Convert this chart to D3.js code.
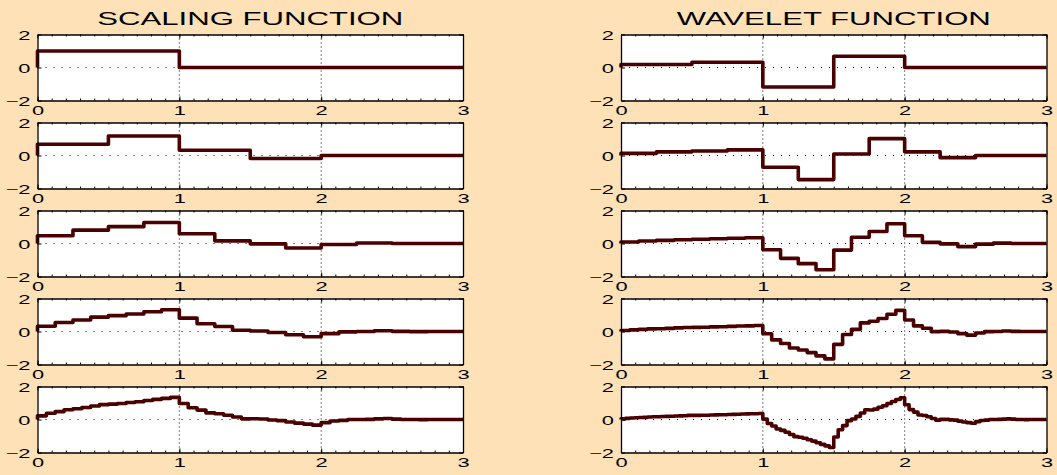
<!DOCTYPE html>
<html>
<head>
<meta charset="utf-8">
<script src="https://cdn.jsdelivr.net/npm/d3@7"></script>
<style>
  html, body { margin: 0; padding: 0; background: #FEE1B7; }
  svg { display: block; }
</style>
</head>
<body>
<svg id="chart" width="1057" height="475"></svg>
<script>
// Cascade iterations of the Daubechies-4 scaling function and wavelet.
// Each array holds the piecewise-constant values of one iteration, starting at t = 0.
const titles = ["SCALING FUNCTION", "WAVELET FUNCTION"];
const xTicks = [0, 1, 2, 3];
const yTicks = [-2, 0, 2];

const scaling1 = [1];
const scaling2 = [0.68, 1.18, 0.32, -0.18];
const scaling3 = [0.47, 0.81, 1.02, 1.27, 0.59, 0.16, -0.02, -0.27, -0.06, 0.03];
const scaling4 = [0.32, 0.55, 0.70, 0.87, 0.96, 1.06, 1.20, 1.32, 0.81, 0.47, 0.30, 0.08,
                  0.03, -0.06, -0.20, -0.32, -0.13, -0.02, 0.00, 0.05, 0.01, -0.01];
const scaling5 = [0.22, 0.38, 0.48, 0.59, 0.65, 0.73, 0.82, 0.90, 0.93, 0.97, 1.03, 1.08,
                  1.15, 1.22, 1.28, 1.34, 0.97, 0.71, 0.57, 0.40, 0.35, 0.26, 0.15, 0.04,
                  0.05, 0.03, -0.03, -0.07, -0.15, -0.22, -0.28, -0.34, -0.19, -0.09, -0.05, 0.00,
                  0.00, 0.01, 0.04, 0.06, 0.02, 0.00, 0.00, -0.01, 0.00, 0.00];

const wavelet1 = [0.18, 0.32, -1.18, 0.68];
const wavelet2 = [0.13, 0.22, 0.27, 0.34, -0.71, -1.46, 0.09, 1.02, 0.22, -0.13];
const wavelet3 = [0.09, 0.15, 0.19, 0.23, 0.26, 0.29, 0.32, 0.35, -0.38, -0.90, -1.22, -1.59,
                  -0.40, 0.38, 0.73, 1.20, 0.47, 0.07, -0.02, -0.19, -0.04, 0.02];
const wavelet4 = [0.06, 0.10, 0.13, 0.16, 0.17, 0.19, 0.22, 0.24, 0.25, 0.26, 0.28, 0.29,
                  0.31, 0.33, 0.34, 0.36, -0.14, -0.51, -0.73, -1.00, -1.12, -1.28, -1.48, -1.66,
                  -0.78, -0.18, 0.13, 0.52, 0.62, 0.79, 1.05, 1.28, 0.70, 0.34, 0.20, -0.01,
                  0.01, -0.03, -0.13, -0.22, -0.09, -0.01, 0.00, 0.03, 0.01, 0.00];
const wavelet5 = [0.04, 0.07, 0.09, 0.11, 0.12, 0.13, 0.15, 0.17, 0.17, 0.18, 0.19, 0.20,
                  0.21, 0.22, 0.23, 0.25, 0.25, 0.25, 0.26, 0.26, 0.27, 0.28, 0.29, 0.29,
                  0.30, 0.31, 0.32, 0.33, 0.34, 0.35, 0.35, 0.36, 0.02, -0.24, -0.39, -0.58,
                  -0.66, -0.77, -0.91, -1.04, -1.08, -1.14, -1.23, -1.31, -1.41, -1.51, -1.60, -1.70,
                  -1.06, -0.62, -0.37, -0.07, 0.03, 0.19, 0.39, 0.59, 0.58, 0.63, 0.74, 0.83,
                  0.97, 1.09, 1.21, 1.32, 0.89, 0.60, 0.45, 0.27, 0.24, 0.17, 0.06, -0.04,
                  0.01, 0.01, -0.02, -0.04, -0.10, -0.15, -0.19, -0.23, -0.13, -0.06, -0.04, 0.00,
                  0.00, 0.01, 0.02, 0.04, 0.02, 0.00, 0.00, -0.01, 0.00, 0.00];

// Width of one constant piece for each iteration.
const scalingSteps = [1, 1 / 2, 1 / 4, 1 / 8, 1 / 16];
const waveletSteps = [1 / 2, 1 / 4, 1 / 8, 1 / 16, 1 / 32];

const columns = [
  { series: [scaling1, scaling2, scaling3, scaling4, scaling5], steps: scalingSteps },
  { series: [wavelet1, wavelet2, wavelet3, wavelet4, wavelet5], steps: waveletSteps }
];

// Layout
const colLeft = [37.5, 621];
const colRight = [463, 1046.5];
const rowTop = 34.5, rowHeight = 66, rowGap = 88;
const textStretch = 1.75;
const fontFamily = "'Liberation Sans', Arial, Helvetica, sans-serif";
const lineColor = "#4a0000";

const svg = d3.select("#chart");

function stretchText(sel) {
  sel.attr("transform", `scale(${textStretch},1)`)
     .attr("fill", "#000")
     .style("font-family", fontFamily)
     .style("font-size", "12.5px");
}

// Titles
titles.forEach((t, c) => {
  svg.append("text")
    .attr("transform", `translate(${(colLeft[c] + colRight[c]) / 2},25) scale(1.73,1)`)
    .attr("text-anchor", "middle")
    .style("font-family", fontFamily)
    .style("font-size", "18px")
    .attr("fill", "#000")
    .text(t);
});

for (let r = 0; r < 5; r++) {
  for (let c = 0; c < 2; c++) {
    const top = rowTop + r * rowGap, bottom = top + rowHeight;
    const x = d3.scaleLinear().domain([0, 3]).range([colLeft[c], colRight[c]]);
    const y = d3.scaleLinear().domain([-2, 2]).range([bottom, top]);
    const g = svg.append("g");

    // Plot area
    g.append("rect")
      .attr("x", x(0)).attr("y", y(2))
      .attr("width", x(3) - x(0)).attr("height", y(-2) - y(2))
      .attr("fill", "#fff");

    // Dotted grid
    g.selectAll(".gx").data([1, 2]).join("line")
      .attr("x1", d => x(d)).attr("x2", d => x(d))
      .attr("y1", y(2)).attr("y2", y(-2))
      .attr("stroke", "#000").attr("stroke-width", 1)
      .attr("stroke-dasharray", "1,3");
    g.selectAll(".gy").data([0]).join("line")
      .attr("x1", x(0)).attr("x2", x(3))
      .attr("y1", d => y(d)).attr("y2", d => y(d))
      .attr("stroke", "#000").attr("stroke-width", 1)
      .attr("stroke-dasharray", "1,7");

    // Stepped curve
    const vals = columns[c].series[r];
    const w = columns[c].steps[r];
    const n = Math.round(3 / w);
    const pts = [[0, 0]];
    for (let i = 0; i < n; i++) pts.push([i * w, i < vals.length ? vals[i] : 0]);
    pts.push([3, 0]);
    const line = d3.line().x(d => x(d[0])).y(d => y(d[1])).curve(d3.curveStepAfter);
    g.append("path")
      .attr("d", line(pts))
      .attr("fill", "none")
      .attr("stroke", lineColor)
      .attr("stroke-width", 3.6)
      .attr("stroke-linejoin", "round");

    // Minor ticks along the top and bottom edges
    const minor = d3.range(0, 3.0001, 0.1);
    g.append("g").attr("transform", `translate(0,${bottom})`)
      .call(d3.axisBottom(x).tickValues(minor).tickSizeInner(-2).tickSizeOuter(0).tickFormat(""))
      .call(s => s.select(".domain").remove());
    g.append("g").attr("transform", `translate(0,${top})`)
      .call(d3.axisTop(x).tickValues(minor).tickSizeInner(-2).tickSizeOuter(0).tickFormat(""))
      .call(s => s.select(".domain").remove());

    // Major axes
    const xa = g.append("g").attr("transform", `translate(0,${bottom})`)
      .call(d3.axisBottom(x).tickValues(xTicks).tickSizeInner(-4).tickSizeOuter(0)
        .tickPadding(0).tickFormat(d3.format("d")));
    xa.selectAll("text").attr("y", 14.5).attr("dy", null).call(stretchText);
    g.append("g").attr("transform", `translate(0,${top})`)
      .call(d3.axisTop(x).tickValues(xTicks).tickSizeInner(-4).tickSizeOuter(0).tickFormat(""));

    const ya = g.append("g").attr("transform", `translate(${x(0)},0)`)
      .call(d3.axisLeft(y).tickValues(yTicks).tickSizeInner(-4).tickSizeOuter(0)
        .tickPadding(0).tickFormat(d => d < 0 ? "\u2212" + Math.abs(d) : String(d)));
    ya.selectAll("text").attr("x", -7 / textStretch).attr("dy", "0.36em").call(stretchText);
    g.append("g").attr("transform", `translate(${x(3)},0)`)
      .call(d3.axisRight(y).tickValues(yTicks).tickSizeInner(-4).tickSizeOuter(0).tickFormat(""));

    g.selectAll(".domain").attr("stroke", "#000").attr("stroke-width", 1.3);
    g.selectAll(".tick line").attr("stroke", "#000");
  }
}
</script>
</body>
</html>
